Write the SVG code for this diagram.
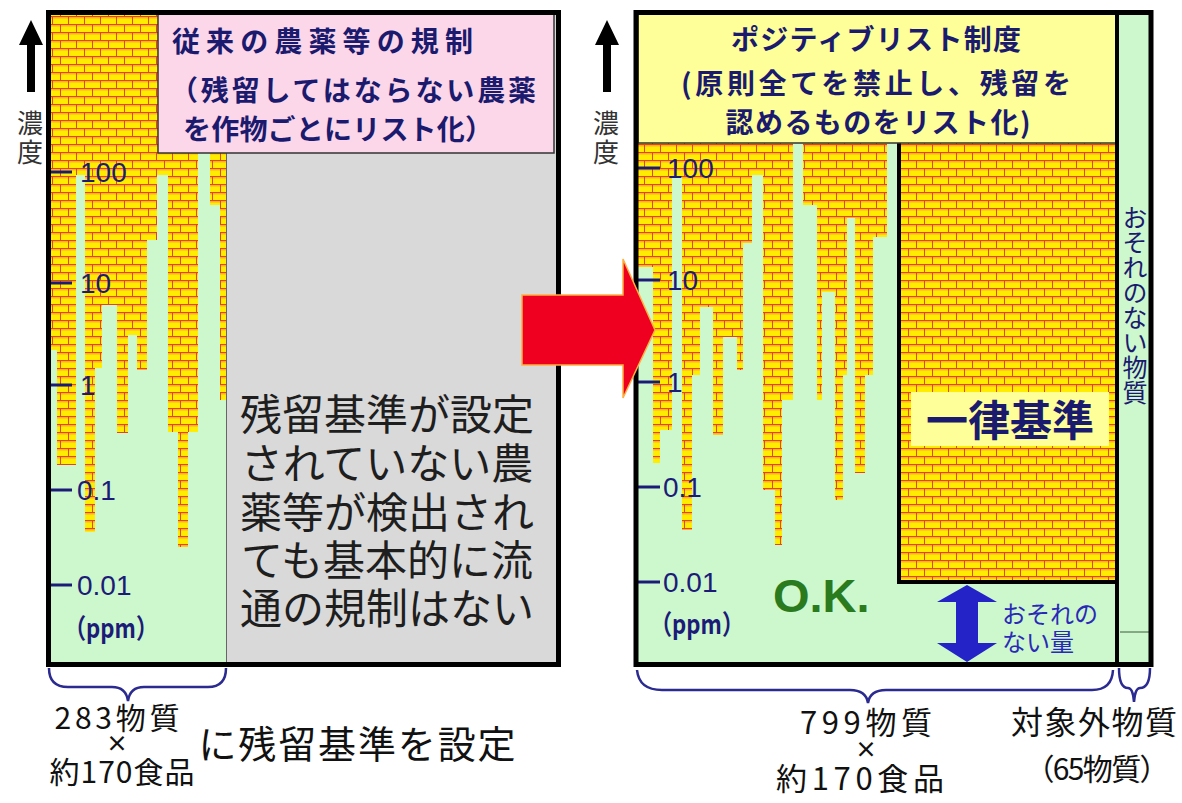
<svg xmlns="http://www.w3.org/2000/svg" width="1182" height="803" viewBox="0 0 1182 803">
<defs>
<pattern id="brick" width="16" height="16" patternUnits="userSpaceOnUse">
<rect width="16" height="16" fill="#ffec00"/>
<rect y="1" width="16" height="1.5" fill="#ffb020"/>
<rect y="9" width="16" height="1.5" fill="#ffb020"/>
<path d="M0,0.5H16M0,8.5H16M4.5,0V8.5M12.5,8.5V16" stroke="#e2461a" stroke-width="1" fill="none"/>
</pattern>
<style>
.frame{fill:none;stroke:#000;stroke-width:5}
.green{fill:#cdf7cd}
.bricks{fill:url(#brick)}
.jp{font-family:"Noto Sans CJK JP","Liberation Sans",sans-serif}
.num{font-family:"Liberation Sans","Noto Sans CJK JP",sans-serif;font-size:28px;fill:#1c1c78}
.tick{stroke:#1c1c78;stroke-width:3}
.title{font-family:"Noto Sans CJK JP",sans-serif;font-weight:bold;font-size:28px;fill:#1a1a6e}
.axis{font-family:"Noto Sans CJK JP",sans-serif;font-size:26px;fill:#333}
.bottom{font-family:"Noto Sans CJK JP","Liberation Sans",sans-serif;fill:#111;text-anchor:middle}
.times{font-family:"Noto Sans CJK JP",sans-serif;font-weight:bold;fill:#111;text-anchor:middle}
.brace{fill:none;stroke:#2a2a90;stroke-width:2.5}
</style>
</defs>
<rect width="1182" height="803" fill="#fff"/>

<g id="axis-left">
<path d="M31,20 L43,45 L35,45 L35,92 L27,92 L27,45 L19,45 Z" fill="#000"/>
<text class="axis" x="30" y="110" style="writing-mode:vertical-rl" letter-spacing="3">濃度</text>
</g>
<g id="axis-right">
<path d="M607,20 L619,45 L611,45 L611,92 L603,92 L603,45 L595,45 Z" fill="#000"/>
<text class="axis" x="606" y="110" style="writing-mode:vertical-rl" letter-spacing="3">濃度</text>
</g>

<g id="left-panel">
<rect class="green" x="51" y="14" width="175" height="649"/>
<path class="bricks" d="M51,14 V350 H57 V465 H76 V175 H85 V532 H95 V368 H102 V305 H117 V433 H128 V335 H137 V370 H147 V240 H157 V175 H168 V432 H178 V547 H188 V432 H198 V153 H210 V205 H220 V400 H226 V14 Z"/>
<rect x="226" y="14" width="332" height="649" fill="#d9d9d9"/>
<line x1="226.5" y1="153" x2="226.5" y2="663" stroke="#666" stroke-width="1"/>
<g id="left-title">
<rect x="158" y="14" width="396" height="139" fill="#fcd6e9" stroke="#333" stroke-width="1.5"/>
<text class="title" x="172" y="52" textLength="301" lengthAdjust="spacing">従来の農薬等の規制</text>
<text class="title" x="170" y="101" textLength="366" lengthAdjust="spacing">（残留してはならない農薬</text>
<text class="title" x="183" y="140" textLength="310" lengthAdjust="spacing">を作物ごとにリスト化）</text>
</g>
<g id="left-scale">
<line class="tick" x1="48" y1="172" x2="72" y2="172"/>
<line class="tick" x1="48" y1="283" x2="72" y2="283"/>
<line class="tick" x1="48" y1="385" x2="72" y2="385"/>
<line class="tick" x1="48" y1="490" x2="72" y2="490"/>
<line class="tick" x1="48" y1="585" x2="72" y2="585"/>
<text class="num" x="80" y="182">100</text>
<text class="num" x="80" y="293">10</text>
<text class="num" x="80" y="395">1</text>
<text class="num" x="77" y="500">0.1</text>
<text class="num" x="77" y="595">0.01</text>
<text class="jp" x="64" y="638" font-size="27" font-weight="bold" fill="#1c1c78" textLength="94" lengthAdjust="spacingAndGlyphs">（ppm）</text>
</g>
<g id="left-note" class="jp" font-size="42" fill="#1e1e1e" text-anchor="middle">
<text x="387" y="430">残留基準が設定</text>
<text x="387" y="479">されていない農</text>
<text x="387" y="528">薬等が検出され</text>
<text x="387" y="576">ても基本的に流</text>
<text x="387" y="624">通の規制はない</text>
</g>
<rect class="frame" x="48.5" y="12.5" width="510" height="652"/>
</g>

<g id="right-panel">
<rect class="green" x="638" y="13" width="513" height="651"/>
<path class="bricks" d="M638,143 V267 H653 V463 H660 V430 H672 V177 H682 V530 H692 V375 H700 V307 H713 V435 H723 V337 H737 V370 H743 V243 H752 V175 H763 V490 H775 V545 H782 V400 H793 V143 H803 V205 H817 V400 H822 V292 H835 V500 H843 V375 H847 V218 H855 V473 H865 V375 H873 V237 H887 V143 Z"/>
<g id="uniform-standard">
<rect class="bricks" x="899" y="143" width="217" height="439"/>
<path d="M899,143 V582 H1117" fill="none" stroke="#000" stroke-width="4"/>
<rect x="911" y="392" width="198" height="54" fill="#ffff99"/>
<text class="jp" x="1010" y="436" font-size="42" font-weight="bold" fill="#1a1a6e" text-anchor="middle">一律基準</text>
</g>
<g id="right-title">
<rect x="638" y="13" width="478" height="130" fill="#ffff99" stroke="#333" stroke-width="1.5"/>
<text class="title" x="876" y="50" text-anchor="middle" textLength="290" lengthAdjust="spacing">ポジティブリスト制度</text>
<text class="title" x="876" y="94" text-anchor="middle" textLength="390" lengthAdjust="spacing">(原則全てを禁止し、残留を</text>
<text class="title" x="878" y="133" text-anchor="middle" textLength="305" lengthAdjust="spacing">認めるものをリスト化)</text>
</g>
<g id="right-scale">
<line class="tick" x1="636" y1="168" x2="660" y2="168"/>
<line class="tick" x1="636" y1="280" x2="660" y2="280"/>
<line class="tick" x1="636" y1="382" x2="660" y2="382"/>
<line class="tick" x1="636" y1="487" x2="660" y2="487"/>
<line class="tick" x1="636" y1="582" x2="660" y2="582"/>
<text class="num" x="667" y="178">100</text>
<text class="num" x="667" y="290">10</text>
<text class="num" x="667" y="392">1</text>
<text class="num" x="663" y="497">0.1</text>
<text class="num" x="663" y="592">0.01</text>
<text class="jp" x="650" y="634" font-size="27" font-weight="bold" fill="#1c1c78" textLength="94" lengthAdjust="spacingAndGlyphs">（ppm）</text>
</g>
<text id="ok" x="773" y="612" font-family="Liberation Sans, sans-serif" font-weight="bold" font-size="47" fill="#2a7a1e">O.K.</text>
<g id="safe-amount">
<path d="M967,585 L997,602 L978,602 L978,643 L997,643 L967,662 L937,643 L956,643 L956,602 L937,602 Z" fill="#2323c8"/>
<text class="jp" x="1002" y="623" font-size="24" fill="#2a2ab8">おそれの</text>
<text class="jp" x="1002" y="651" font-size="24" fill="#2a2ab8">ない量</text>
</g>
<g id="exempt-column">
<line x1="1117" y1="13" x2="1117" y2="664" stroke="#000" stroke-width="4"/>
<text class="jp" x="1135" y="205" font-size="25" fill="#1a1a6e" style="writing-mode:vertical-rl">おそれのない物質</text>
<line x1="1120" y1="632" x2="1149" y2="632" stroke="#3a5a3a" stroke-width="1"/>
</g>
<rect class="frame" x="636" y="12.5" width="515" height="652"/>
</g>

<g id="connectors">
<path d="M522,295 H623 V259 L655,330 L623,398 V365 H522 Z" fill="#f00020" stroke="#ffb040" stroke-width="1.5"/>
<path class="brace" d="M49,668 Q49,687 68,687 H112 Q126,687 128,701 Q130,687 144,687 H208 Q226,687 226,668"/>
<path class="brace" d="M637,670 Q639,690 662,690 H850 Q866,690 868,703 Q870,690 886,690 H1092 Q1112,690 1113,670"/>
<path class="brace" d="M1119,668 Q1119,688 1128,688 Q1133,688 1134,702 Q1135,688 1140,688 Q1150,688 1150,668"/>
</g>

<g id="bottom-labels">
<text class="bottom" x="117" y="729" font-size="30" textLength="125" lengthAdjust="spacing">283物質</text>
<text class="times" x="117" y="751" font-size="22">×</text>
<text class="bottom" x="122" y="783" font-size="30" textLength="145" lengthAdjust="spacing">約170食品</text>
<text class="bottom" x="357" y="758" font-size="38" textLength="317" lengthAdjust="spacing">に残留基準を設定</text>
<text class="bottom" x="866" y="734" font-size="31" textLength="132" lengthAdjust="spacing">799物質</text>
<text class="times" x="866" y="757" font-size="22">×</text>
<text class="bottom" x="860" y="790" font-size="31" textLength="168" lengthAdjust="spacing">約170食品</text>
<text class="bottom" x="1094" y="734" font-size="32" textLength="166" lengthAdjust="spacing">対象外物質</text>
<text class="bottom" x="1097" y="780" font-size="30" textLength="145" lengthAdjust="spacing">（65物質）</text>
</g>
</svg>
